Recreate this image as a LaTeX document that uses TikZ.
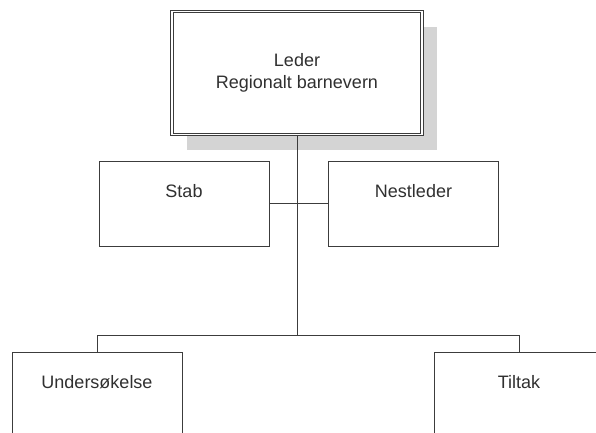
\documentclass[tikz,border=0pt]{standalone}
\usepackage{fontspec}
\setmainfont{Liberation Sans}
\usetikzlibrary{shadows}
\definecolor{linegray}{HTML}{3C3C3C}
\definecolor{textgray}{HTML}{303030}
\definecolor{shadowgray}{HTML}{D4D4D4}

\begin{document}
\begin{tikzpicture}[x=1pt, y=-1pt, line width=0.9pt, color=linegray,
        unit/.style={draw, fill=white, text=textgray, minimum width=170pt,
                     inner ysep=0pt, text height=36pt, text depth=49pt,
                     font=\fontsize{18}{22}\selectfont},
        head/.style={draw, fill=white, text=textgray, double, double distance=1.6pt,
                     minimum width=250pt, minimum height=123pt, align=center,
                     font=\fontsize{18}{22}\selectfont,
                     general shadow={fill=shadowgray, shadow xshift=15pt, shadow yshift=-15pt}}]
        \clip (0,0) rectangle (596,432);

        \coordinate (B) at (297,335);

        \node[head] (L) at (297,73) {Leder\\Regionalt barnevern};
        \node[unit] (S) at (184,203.5) {Stab};
        \node[unit] (N) at (413.5,203.5) {Nestleder};
        \node[unit] (U) at (97,394.5) {Undersøkelse};
        \node[unit] (T) at (519,394.5) {Tiltak};

        \draw (L) -- (B);
        \draw (S) -- (N);
        \draw (U) |- (B) -| (T);
    \end{tikzpicture}
\end{document}
